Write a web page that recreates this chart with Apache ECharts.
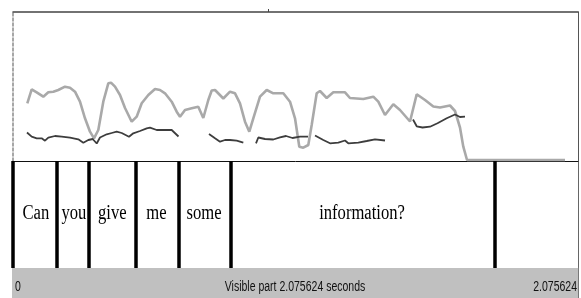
<!DOCTYPE html>
<html>
<head>
<meta charset="utf-8">
<style>
  html, body { margin: 0; padding: 0; background: #ffffff; }
  #chart { width: 581px; height: 298px; }
</style>
<script src="https://cdn.jsdelivr.net/npm/echarts@6/dist/echarts.min.js"></script>
</head>
<body>
<div id="chart"></div>
<script>
// visible part of the recording, seconds
const totalTime = 2.075624;

// light grey contour (intensity), time in s / level
const intTime = [0.0525, 0.0687, 0.0871, 0.1113, 0.1297, 0.1481, 0.1664, 0.1910, 0.2094, 0.2278,
  0.2461, 0.2645, 0.2829, 0.2976, 0.3134, 0.3317, 0.3501, 0.3600, 0.3747, 0.3931,
  0.4115, 0.4361, 0.4544, 0.4728, 0.4971, 0.5217, 0.5400, 0.5584, 0.5830, 0.6014,
  0.6135, 0.6319, 0.6565, 0.6807, 0.6991, 0.7175, 0.7300, 0.7421, 0.7726, 0.7972,
  0.8156, 0.8339, 0.8523, 0.8681, 0.8828, 0.9074, 0.9320, 0.9563, 0.9930, 1.0176,
  1.0360, 1.0518, 1.0665, 1.0848, 1.0973, 1.1157, 1.1278, 1.1524, 1.1767, 1.2197,
  1.2380, 1.2869, 1.3236, 1.3420, 1.3666, 1.3971, 1.4217, 1.4585, 1.4831, 1.5136,
  1.5441, 1.5687, 1.6054, 1.6238, 1.6421, 1.6543, 1.6679, 2.0279];
const intLevel = [57.7, 71.7, 68.7, 64.3, 68.7, 69.3, 71, 74.3, 73.3, 69.3,
  59.3, 42.7, 29.3, 22.7, 31, 59.3, 77.7, 78.3, 74.3, 66,
  53, 39.3, 44.3, 57.7, 66, 72, 71, 67.7, 59.3, 49.3,
  44.3, 51, 52.7, 54.3, 43, 61, 70.5, 71, 62.5, 69.3,
  67.7, 57.7, 39.3, 29.3, 42.7, 64.3, 71, 67.7, 67.7, 59.3,
  42.7, 14.3, 13.3, 16, 36, 67.7, 70, 63, 68.7, 68.7,
  63, 62, 64.3, 59.3, 46, 56.7, 51, 39.5, 66.8, 61,
  54.5, 53.5, 55.5, 50, 33.5, 14.3, 1, 1];

// dark contour (pitch), null = unvoiced gap
const pitchTime = [0.0514, 0.0687, 0.0871, 0.1054, 0.1176, 0.1297, 0.1543, 0.1789, 0.2094, 0.2399,
  0.2583, 0.2766, 0.2928, 0.3075, 0.3196, 0.3442, 0.3626, 0.3810, 0.3993, 0.4261,
  0.4419, 0.4666, 0.4912, 0.5033, 0.5279, 0.5584, 0.5830, 0.6080, 0.66,
  0.7200, 0.7421, 0.7605, 0.7788, 0.7972, 0.8218, 0.8461, 0.87,
  0.8927, 0.9012, 0.9258, 0.9563, 0.9809, 1.0029, 1.0268, 1.0544, 1.0837, 1.095,
  1.1095, 1.1400, 1.1646, 1.1951, 1.2197, 1.2318, 1.2685, 1.2994, 1.3299, 1.3666, 1.42,
  1.4695, 1.4831, 1.5044, 1.5319, 1.5595, 1.5933, 1.6238, 1.6421, 1.6605];
const pitchLevel = [28.5, 24.3, 22.7, 22.7, 20.3, 23.3, 25, 24.3, 23.3, 21.7,
  18.3, 21, 22, 17.5, 23.5, 26.7, 28, 29.3, 28, 24.3,
  27.7, 30, 32.7, 33.3, 31, 31, 31, 24.5, null,
  27, 22.7, 19.3, 21, 21, 20.3, 18.3, null,
  17.7, 23.5, 22, 21.5, 23.7, 25, 23, 24.3, 24.3, null,
  25.5, 21, 17.7, 18.3, 20.5, 17.7, 18.3, 20, 21.7, 20.5, null,
  41.5, 34.7, 33.5, 34.3, 37.7, 42.7, 46.5, 44, 44.3];

// word tier
const words = ['Can', 'you', 'give', 'me', 'some', 'information?'];
const boundaries = [0.004, 0.1642, 0.2829, 0.4471, 0.6062, 0.7972, 1.7671];

// texts of the bottom bar
const barLabels = ['0', 'Visible part 2.075624 seconds', '2.075624'];
const topTick = [0.937];

const intData = intTime.map((t, i) => [t, intLevel[i]]);
const pitchData = pitchTime.map((t, i) => [t, pitchLevel[i] == null ? '-' : pitchLevel[i]]);

const chart = echarts.init(document.getElementById('chart'), null, { renderer: 'canvas' });

const option = {
  animation: false,
  backgroundColor: '#ffffff',
  grid: [
    { left: 13, top: 12, width: 565, height: 149, show: false },
    { left: 13, top: 161, width: 565, height: 107, show: false },
    { left: 12, top: 268, width: 566, height: 30, show: true, backgroundColor: '#c0c0c0', borderWidth: 0 }
  ],
  xAxis: [
    {
      gridIndex: 0, type: 'value', min: 0, max: totalTime, position: 'top',
      axisLine: { show: true, onZero: false, lineStyle: { color: '#444', width: 1.5 } },
      axisTick: { show: true, inside: false, length: 3, customValues: topTick, lineStyle: { color: '#444' } },
      axisLabel: { show: false }, splitLine: { show: false }
    },
    {
      gridIndex: 1, type: 'value', min: 0, max: totalTime, position: 'top',
      axisLine: { show: true, onZero: false, lineStyle: { color: '#111', width: 1 } },
      axisTick: { show: false }, axisLabel: { show: false }, splitLine: { show: false }
    },
    {
      gridIndex: 2, type: 'value', min: 0, max: totalTime, show: false
    }
  ],
  yAxis: [
    {
      gridIndex: 0, type: 'value', min: 0, max: 149, position: 'left',
      axisLine: { show: true, onZero: false, lineStyle: { color: '#8a8a8a', width: 1.5, type: [3, 2] } },
      axisTick: { show: false }, axisLabel: { show: false }, splitLine: { show: false }
    },
    {
      gridIndex: 0, type: 'value', min: 0, max: 149, position: 'right',
      axisLine: { show: true, onZero: false, lineStyle: { color: '#555', width: 1 } },
      axisTick: { show: false }, axisLabel: { show: false }, splitLine: { show: false }
    },
    {
      gridIndex: 1, type: 'value', min: 0, max: 1, position: 'right',
      axisLine: { show: true, onZero: false, lineStyle: { color: '#666', width: 1 } },
      axisTick: { show: false }, axisLabel: { show: false }, splitLine: { show: false }
    },
    {
      gridIndex: 2, type: 'value', min: 0, max: 1, position: 'right',
      axisLine: { show: true, onZero: false, lineStyle: { color: '#777', width: 1 } },
      axisTick: { show: false }, axisLabel: { show: false }, splitLine: { show: false }
    }
  ],
  series: [
    {
      name: 'intensity', type: 'line', xAxisIndex: 0, yAxisIndex: 0,
      data: intData, showSymbol: false, clip: false,
      lineStyle: { color: '#a9a9a9', width: 2.6 }
    },
    {
      name: 'pitch', type: 'line', xAxisIndex: 0, yAxisIndex: 0,
      data: pitchData, showSymbol: false, connectNulls: false,
      lineStyle: { color: '#3d3d3d', width: 1.8 }
    },
    {
      name: 'tier', type: 'line', xAxisIndex: 1, yAxisIndex: 2, data: [],
      markLine: {
        silent: true, symbol: 'none', label: { show: false },
        lineStyle: { color: '#000', width: 3.5, type: 'solid' },
        data: boundaries.map(b => ({ xAxis: b }))
      }
    }
  ]
};
chart.setOption(option);

// word labels centred in their intervals, bar texts placed on the bar's axis
const graphics = [];
const tierMid = chart.convertToPixel({ gridIndex: 1 }, [0, 0.5])[1];
words.forEach((w, i) => {
  const mid = (boundaries[i] + boundaries[i + 1]) / 2;
  const px = chart.convertToPixel({ gridIndex: 1 }, [mid, 0.5]);
  graphics.push({
    type: 'text', x: px[0], y: tierMid - 1, scaleX: 0.81, scaleY: 1,
    style: { text: w, fill: '#000', font: '20.5px "Liberation Serif"', align: 'center', verticalAlign: 'middle' }
  });
});
const barY = chart.convertToPixel({ gridIndex: 2 }, [0, 0.5])[1] + 4;
const pLeft = chart.convertToPixel({ gridIndex: 2 }, [0, 0.5])[0];
const pRight = chart.convertToPixel({ gridIndex: 2 }, [totalTime, 0.5])[0];
const pMid = chart.convertToPixel({ gridIndex: 2 }, [totalTime / 2, 0.5])[0];
const barFont = '14px "Liberation Sans"';
graphics.push({
  type: 'text', x: pLeft + 3, y: barY, scaleX: 0.75,
  style: { text: barLabels[0], fill: '#111', font: barFont, align: 'left', verticalAlign: 'middle' }
});
graphics.push({
  type: 'text', x: pMid, y: barY, scaleX: 0.75,
  style: { text: barLabels[1], fill: '#111', font: barFont, align: 'center', verticalAlign: 'middle' }
});
graphics.push({
  type: 'text', x: pRight - 1, y: barY, scaleX: 0.75,
  style: { text: barLabels[2], fill: '#111', font: barFont, align: 'right', verticalAlign: 'middle' }
});
chart.setOption({ graphic: graphics });
</script>
</body>
</html>
